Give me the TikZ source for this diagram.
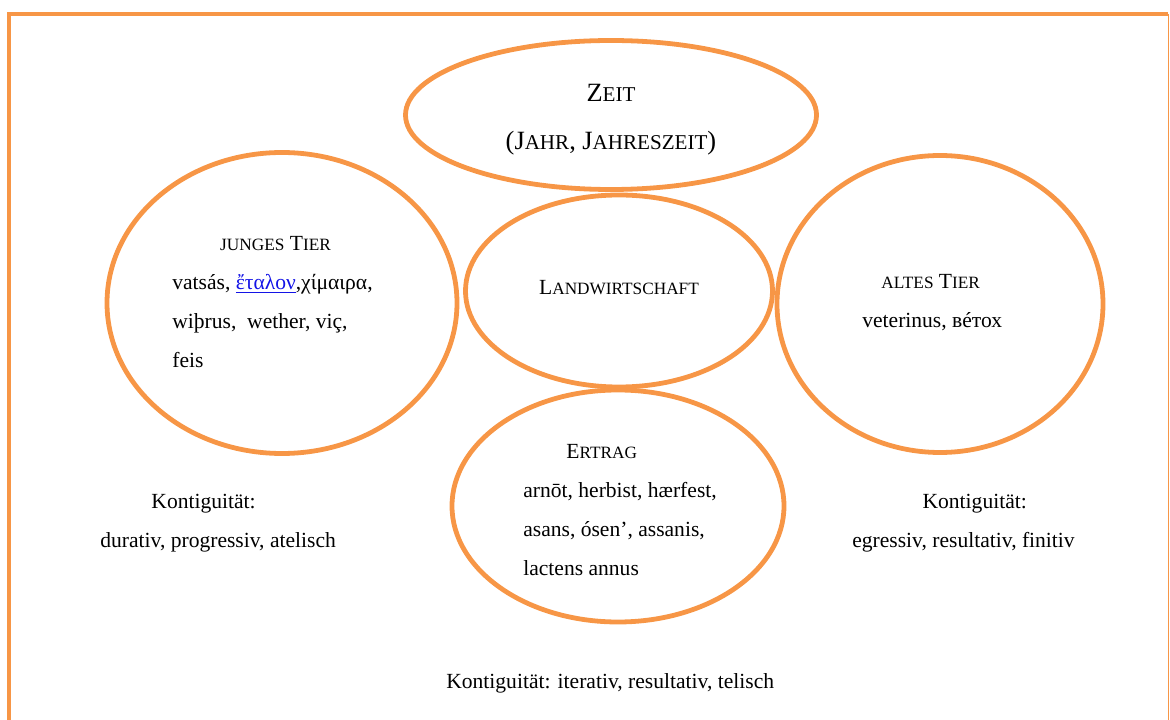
\documentclass[tikz,border=0pt]{standalone}
\usepackage{fontspec}
\setmainfont{Liberation Serif}
\usetikzlibrary{shapes.geometric, positioning}
\definecolor{ovalorange}{RGB}{247,150,70}
\definecolor{linkblue}{RGB}{20,20,230}
\newcommand{\sk}[2][10.8]{{\fontsize{#1}{#1}\selectfont #2}}
\newcommand{\px}{0.022cm}

\begin{document}
\begin{tikzpicture}[
  x=\px, y=-\px,
  oval/.style 2 args={ellipse, draw=ovalorange, line width=3pt,
                      minimum width=#1*\px, minimum height=#2*\px, inner sep=0pt},
  txt/.style={align=left, inner sep=0pt, anchor=north west,
              font=\fontsize{13.5}{24.5}\selectfont}
]
\useasboundingbox (0,0) rectangle (1170,720);

%% Frame
\draw[ovalorange, line width=3pt] (9,720) -- (9,14) -- (1168,14);
\draw[ovalorange, line width=0.6pt] (1168,14) -- (1168,720);

%% Ovals
\node[oval={411}{149}] (zeit) at (611,115) {};
\node[oval={307}{192}] (land) at (619,291) {};
\node[oval={350}{301}] (jung) at (282,303) {};
\node[oval={326}{297}] (alt) at (940,304) {};
\node[oval={332}{232}] (ertrag) at (618,506) {};

%% Texts in the ovals
\node[align=center, inner sep=0pt, font=\fontsize{16.5}{30}\selectfont] (zeittxt) at (611,120)
  {Z\sk[13.2]{EIT}\\(J\sk[13.2]{AHR}, J\sk[13.2]{AHRESZEIT})};
\node[inner sep=0pt, font=\fontsize{13.5}{15}\selectfont] (landtxt) at (619,288)
  {L\sk{ANDWIRTSCHAFT}};
\node[txt] (jungtxt) at (172,236)
  {\hspace*{30pt}\sk{JUNGES} T\sk{IER}\\
   vatsás, {\color{linkblue}\underline{ἔταλον}},χίμαιρα,\\
   wiþrus,\ \ wether, viç,\\
   feis};
\node[txt] (alttxt) at (862,274)
  {\hspace*{12pt}\sk{ALTES} T\sk{IER}\\
   veterinus, вéтох};
\node[txt] (ertragtxt) at (523,444)
  {\hspace*{27pt}E\sk{RTRAG}\\
   arnōt, herbist, hærfest,\\
   asans, ósen’, assanis,\\
   lactens annus};

%% Kontiguitaet
\node[txt] (kontil) at (100,494)
  {\hspace*{32pt}Kontiguität:\\
   durativ, progressiv, atelisch};
\node[txt] (kontir) at (852,494)
  {\hspace*{44pt}Kontiguität:\\
   egressiv, resultativ, finitiv};
\node[txt, anchor=mid west] (kontib) at (446,685)
  {Kontiguität: iterativ, resultativ, telisch};
\end{tikzpicture}
\end{document}
